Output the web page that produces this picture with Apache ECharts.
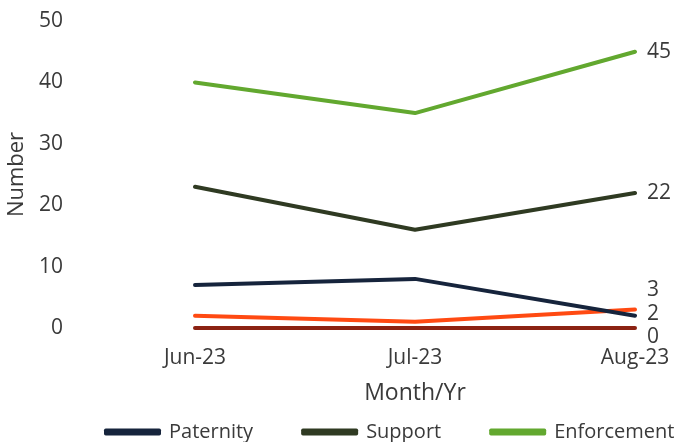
<!DOCTYPE html>
<html>
<head>
<meta charset="utf-8">
<script src="https://cdn.jsdelivr.net/npm/echarts@6/dist/echarts.min.js"></script>
<style>
  html, body { margin: 0; padding: 0; background: #fff; }
  #chart { width: 678px; height: 442px; }
</style>
</head>
<body>
<div id="chart"></div>
<script>
// Monthly case counts by type
const months = ['Jun-23', 'Jul-23', 'Aug-23'];
const paternity = [7, 8, 2];
const support = [23, 16, 22];
const enforcement = [40, 35, 45];
const otherA = [2, 1, 3];
const otherB = [0, 0, 0];
const yTicks = [0, 10, 20, 30, 40, 50];

const FONT = '"Open Sans", "Liberation Sans", sans-serif';
const TEXT = '#3a3a3a';

// Line series with its value written after the last month
function lineSeries(name, data, color, labelDy) {
  return {
    name: name,
    type: 'line',
    data: data,
    symbol: 'none',
    lineStyle: { width: 4, color: color, cap: 'round', join: 'round' },
    itemStyle: { color: color },
    endLabel: {
      show: true,
      distance: 12,
      offset: [0, labelDy || 0],
      fontFamily: FONT,
      fontSize: 21,
      color: TEXT,
      formatter: p => String(p.value)
    }
  };
}

const chart = echarts.init(document.getElementById('chart'), null, { renderer: 'canvas' });
chart.setOption({
  animation: false,
  backgroundColor: '#fff',
  grid: { left: 195, right: 43, top: 21, bottom: 114, outerBoundsMode: 'none', containLabel: false },
  xAxis: {
    type: 'category',
    data: months,
    boundaryGap: false,
    axisLine: { show: false },
    axisTick: { show: false },
    axisLabel: { fontFamily: FONT, fontSize: 21, color: TEXT, margin: 20 },
    name: 'Month/Yr',
    nameLocation: 'middle',
    nameGap: 54,
    nameTextStyle: { fontFamily: FONT, fontSize: 23, color: TEXT }
  },
  yAxis: {
    type: 'value',
    min: yTicks[0],
    max: yTicks[yTicks.length - 1],
    interval: yTicks[1] - yTicks[0],
    axisLine: { show: false },
    axisTick: { show: false },
    splitLine: { show: false },
    axisLabel: { fontFamily: FONT, fontSize: 21, color: TEXT, margin: 132 },
    name: 'Number',
    nameLocation: 'middle',
    nameGap: 166,
    nameRotate: 90,
    nameTextStyle: { fontFamily: FONT, fontSize: 22, color: TEXT }
  },
  legend: {
    data: ['Paternity', 'Support', 'Enforcement'],
    bottom: 0,
    left: 104,
    width: 600,
    padding: 0,
    itemWidth: 57,
    itemHeight: 7,
    itemGap: 48,
    icon: 'roundRect',
    textStyle: { fontFamily: FONT, fontSize: 20, color: TEXT, padding: [0, 0, 0, 3] }
  },
  series: [
    lineSeries('Dark', otherB, '#8B2212', 9),
    lineSeries('Orange', otherA, '#FF4A12', -20),
    lineSeries('Paternity', paternity, '#16243C', -2),
    lineSeries('Support', support, '#2F3A22'),
    lineSeries('Enforcement', enforcement, '#62A82F')
  ]
});
</script>
</body>
</html>
